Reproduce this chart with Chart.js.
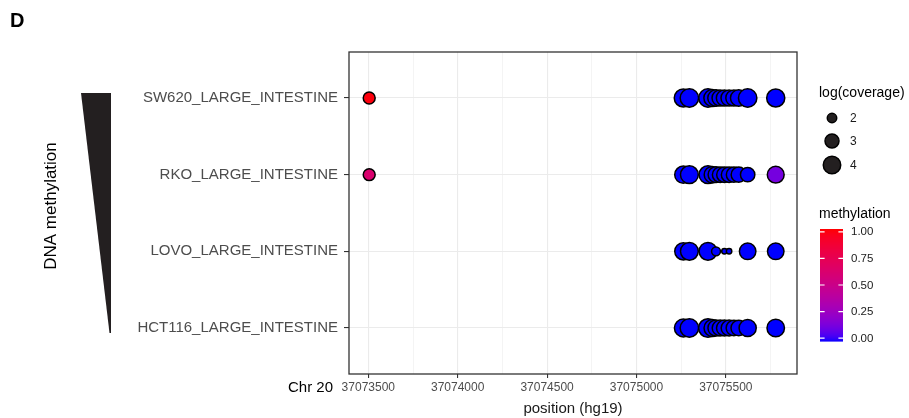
<!DOCTYPE html>
<html>
<head>
<meta charset="utf-8">
<script src="https://cdn.jsdelivr.net/npm/chart.js@4/dist/chart.umd.min.js"></script>
<style>
  html, body { margin: 0; padding: 0; background: #ffffff; }
  #wrap { width: 909px; height: 418px; position: relative; }
</style>
</head>
<body>
<div id="wrap"><canvas id="c" width="909" height="418"></canvas></div>
<script>
// Cell lines, bottom row first (row index 1..4 on the y scale)
const samples = ['HCT116_LARGE_INTESTINE', 'LOVO_LARGE_INTESTINE', 'RKO_LARGE_INTESTINE', 'SW620_LARGE_INTESTINE'];

// CpG positions on chr20 (hg19)
const cpgPositions = [37073505, 37075262, 37075296, 37075400, 37075425, 37075445, 37075468, 37075492, 37075518, 37075545, 37075572, 37075622, 37075779];

// log(coverage) per CpG; null = CpG not covered in that sample
const hct116Coverage = [null, 4.1, 4.3, 4.4, 3.8, 3.6, 3.5, 3.5, 3.5, 3.4, 3.4, 3.9, 4.0];
const lovoCoverage   = [null, 3.9, 4.1, 4.1, null, 1.9, null, 1.4, 1.4, null, null, 3.7, 3.7];
const rkoCoverage    = [2.5, 3.9, 4.1, 4.1, 3.7, 3.5, 3.4, 3.4, 3.4, 3.3, 3.3, 3.1, 3.8];
const sw620Coverage  = [2.5, 4.2, 4.3, 4.3, 3.9, 3.7, 3.6, 3.6, 3.6, 3.6, 3.7, 4.3, 4.2];

// methylation fraction per CpG
const hct116Methylation = [null, 0, 0, 0, 0, 0, 0, 0, 0, 0, 0, 0, 0];
const lovoMethylation   = [null, 0, 0, 0, null, 0, null, 0, 0, null, null, 0, 0];
const rkoMethylation    = [0.62, 0, 0, 0, 0, 0, 0, 0, 0, 0, 0, 0, 0.13];
const sw620Methylation  = [0.98, 0, 0, 0, 0, 0, 0, 0, 0, 0, 0, 0, 0];

const xMajorTicks = [37073500, 37074000, 37074500, 37075000, 37075500];
const xMinorTicks = [37073750, 37074250, 37074750, 37075250, 37075750];
const coverageLegendValues = [2, 3, 4];
const methylationLegendValues = [0, 0.25, 0.5, 0.75, 1];

const FONT = "'Liberation Sans', Arial, sans-serif";

// ---- colour ramp blue -> red interpolated in CIELAB ----
function srgbToLin(c) { c /= 255; return c <= 0.04045 ? c / 12.92 : Math.pow((c + 0.055) / 1.055, 2.4); }
function linToSrgb(c) { c = c <= 0.0031308 ? 12.92 * c : 1.055 * Math.pow(c, 1 / 2.4) - 0.055; return Math.round(Math.max(0, Math.min(1, c)) * 255); }
const WP = [0.95047, 1.0, 1.08883];
function rgbToLab(rgb) {
  const [r, g, b] = rgb.map(srgbToLin);
  const X = (r * 0.4124 + g * 0.3576 + b * 0.1805) / WP[0];
  const Y = (r * 0.2126 + g * 0.7152 + b * 0.0722) / WP[1];
  const Z = (r * 0.0193 + g * 0.1192 + b * 0.9505) / WP[2];
  const f = t => t > 0.008856 ? Math.cbrt(t) : 7.787 * t + 16 / 116;
  const fx = f(X), fy = f(Y), fz = f(Z);
  return [116 * fy - 16, 500 * (fx - fy), 200 * (fy - fz)];
}
function labToRgb(lab) {
  const fy = (lab[0] + 16) / 116, fx = fy + lab[1] / 500, fz = fy - lab[2] / 200;
  const inv = t => t * t * t > 0.008856 ? t * t * t : (t - 16 / 116) / 7.787;
  const X = inv(fx) * WP[0], Y = inv(fy) * WP[1], Z = inv(fz) * WP[2];
  const r = X * 3.2406 + Y * -1.5372 + Z * -0.4986;
  const g = X * -0.9689 + Y * 1.8758 + Z * 0.0415;
  const b = X * 0.0557 + Y * -0.2040 + Z * 1.0570;
  return [linToSrgb(r), linToSrgb(g), linToSrgb(b)];
}
const LAB_LOW = rgbToLab([0, 0, 255]);
const LAB_HIGH = rgbToLab([255, 0, 0]);
function methColor(m) {
  const t = Math.max(0, Math.min(1, m));
  if (t === 0) return 'rgb(0,0,255)';
  if (t === 1) return 'rgb(255,0,0)';
  const lab = LAB_LOW.map((v, i) => v + (LAB_HIGH[i] - v) * t);
  const c = labToRgb(lab);
  return 'rgb(' + c[0] + ',' + c[1] + ',' + c[2] + ')';
}

// point size: area grows linearly with log(coverage)
const BORDER = 1.5;
function outerRadius(v) { return Math.sqrt(30 * (v - 1)); }

function buildDataset(row, coverage, methylation) {
  const pts = [];
  cpgPositions.forEach((p, i) => {
    if (coverage[i] === null) return;
    pts.push({ x: p, y: row, cov: coverage[i], meth: methylation[i] });
  });
  return {
    label: samples[row - 1],
    data: pts,
    pointRadius: ctx => outerRadius(ctx.raw.cov) - BORDER / 2,
    pointHoverRadius: ctx => outerRadius(ctx.raw.cov) - BORDER / 2,
    pointBackgroundColor: ctx => methColor(ctx.raw.meth),
    pointBorderColor: '#000000',
    pointBorderWidth: BORDER,
    showLine: false
  };
}

const datasets = [
  buildDataset(1, hct116Coverage, hct116Methylation),
  buildDataset(2, lovoCoverage, lovoMethylation),
  buildDataset(3, rkoCoverage, rkoMethylation),
  buildDataset(4, sw620Coverage, sw620Methylation)
];

// annotations, panel frame and the two legends
const decorations = {
  id: 'decorations',
  afterDraw(chart) {
    const ctx = chart.ctx;
    const a = chart.chartArea;
    ctx.save();

    // panel frame
    ctx.strokeStyle = '#333333';
    ctx.lineWidth = 1.3;
    ctx.strokeRect(a.left, a.top, a.right - a.left, a.bottom - a.top);

    // panel letter
    ctx.fillStyle = '#000000';
    ctx.font = 'bold 20px ' + FONT;
    ctx.textAlign = 'left';
    ctx.textBaseline = 'middle';
    ctx.fillText('D', 10, 21);

    // wedge
    ctx.fillStyle = '#231f20';
    ctx.beginPath();
    ctx.moveTo(81, 93);
    ctx.lineTo(111, 93);
    ctx.lineTo(111, 333);
    ctx.lineTo(109.5, 333);
    ctx.closePath();
    ctx.fill();

    // rotated label
    ctx.save();
    ctx.translate(51, 206);
    ctx.rotate(-Math.PI / 2);
    ctx.fillStyle = '#000000';
    ctx.font = '17px ' + FONT;
    ctx.textAlign = 'center';
    ctx.textBaseline = 'middle';
    ctx.fillText('DNA methylation', 0, 0);
    ctx.restore();

    // chromosome label
    ctx.fillStyle = '#000000';
    ctx.font = '15px ' + FONT;
    ctx.textAlign = 'right';
    ctx.textBaseline = 'middle';
    ctx.fillText('Chr 20', 333, 388);

    // size legend
    ctx.textAlign = 'left';
    ctx.font = '14px ' + FONT;
    ctx.fillStyle = '#000000';
    ctx.fillText('log(coverage)', 819, 93);
    const sizeY = [118, 141, 165];
    coverageLegendValues.forEach((v, i) => {
      ctx.beginPath();
      ctx.arc(832, sizeY[i], outerRadius(v) - BORDER / 2, 0, Math.PI * 2);
      ctx.fillStyle = '#231f20';
      ctx.fill();
      ctx.lineWidth = BORDER;
      ctx.strokeStyle = '#000000';
      ctx.stroke();
      ctx.fillStyle = '#1a1a1a';
      ctx.font = '12px ' + FONT;
      ctx.fillText(String(v), 850, sizeY[i] + 0.5);
    });

    // colour bar legend
    ctx.font = '14px ' + FONT;
    ctx.fillStyle = '#000000';
    ctx.fillText('methylation', 819, 214);
    const barX = 820, barW = 23, barTop = 229, barBot = 341;
    const nb = 112;
    for (let k = 0; k < nb; k++) {
      const y0 = barTop + (barBot - barTop) * k / nb;
      ctx.fillStyle = methColor(1 - (k + 0.5) / nb);
      ctx.fillRect(barX, y0, barW, (barBot - barTop) / nb + 0.6);
    }
    const tickTop = 231.8, tickBot = 338.2;
    ctx.strokeStyle = '#ffffff';
    ctx.lineWidth = 1.2;
    methylationLegendValues.forEach(v => {
      const y = tickBot - (tickBot - tickTop) * v;
      ctx.beginPath();
      ctx.moveTo(barX, y); ctx.lineTo(barX + 4.6, y);
      ctx.moveTo(barX + barW - 4.6, y); ctx.lineTo(barX + barW, y);
      ctx.stroke();
      ctx.fillStyle = '#1a1a1a';
      ctx.font = '11.5px ' + FONT;
      ctx.fillText(v.toFixed(2), 851, y + 0.5);
    });

    ctx.restore();
  }
};

new Chart(document.getElementById('c'), {
  type: 'scatter',
  data: { datasets },
  options: {
    responsive: false,
    animation: false,
    events: [],
    layout: { padding: { left: 0, right: 112, top: 52, bottom: 0 } },
    plugins: { legend: { display: false }, tooltip: { enabled: false } },
    scales: {
      x: {
        type: 'linear',
        min: 37073392,
        max: 37075898,
        afterBuildTicks: scale => {
          scale.ticks = xMajorTicks.concat(xMinorTicks).sort((p, q) => p - q).map(v => ({ value: v }));
        },
        afterFit: scale => { scale.height = 44; },
        border: { display: false },
        grid: {
          color: '#ebebeb',
          lineWidth: c => xMajorTicks.includes(c.tick.value) ? 1.1 : 0.55,
          tickColor: c => xMajorTicks.includes(c.tick.value) ? '#333333' : 'rgba(0,0,0,0)',
          tickLength: 4,
          tickWidth: 1.1
        },
        ticks: {
          autoSkip: false,
          maxRotation: 0,
          padding: 2,
          color: '#4d4d4d',
          font: { family: FONT, size: 12 },
          callback: v => xMajorTicks.includes(v) ? String(v) : ''
        },
        title: {
          display: true,
          text: 'position (hg19)',
          color: '#1a1a1a',
          font: { family: FONT, size: 15 },
          padding: { top: 0, bottom: 0 }
        }
      },
      y: {
        type: 'linear',
        min: 0.4,
        max: 4.6,
        afterBuildTicks: scale => {
          scale.ticks = samples.map((s, i) => ({ value: i + 1 }));
        },
        afterFit: scale => { scale.width = 349; },
        border: { display: false },
        grid: {
          color: '#ebebeb',
          lineWidth: 1.1,
          tickColor: '#333333',
          tickLength: 5,
          tickWidth: 1.1
        },
        ticks: {
          autoSkip: false,
          padding: 6,
          color: '#4d4d4d',
          font: { family: FONT, size: 15 },
          callback: v => samples[Math.round(v) - 1]
        }
      }
    }
  },
  plugins: [decorations]
});
</script>
</body>
</html>
